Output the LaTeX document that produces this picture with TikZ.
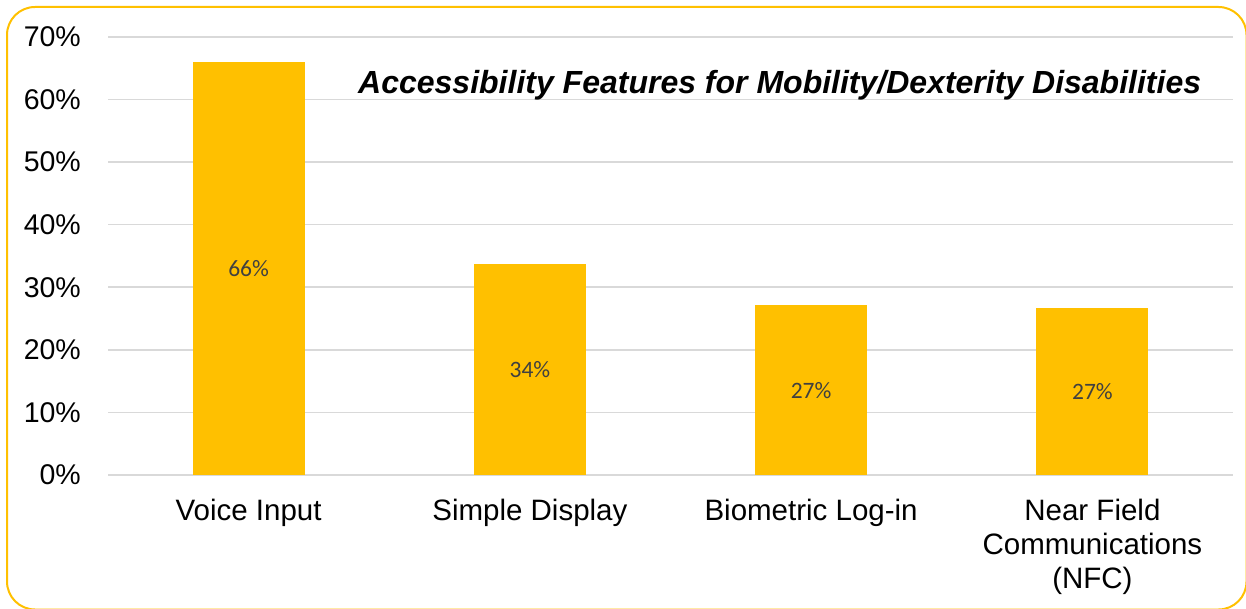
\documentclass[tikz,border=0pt]{standalone}
\usepackage{fontspec}
\setmainfont{Liberation Sans}
\newfontfamily\labelfont{Carlito}
\definecolor{barcol}{HTML}{FFC000}
\definecolor{gridcol}{HTML}{D9D9D9}
\definecolor{valcol}{HTML}{404040}
\tikzset{
  gridline/.style={draw=gridcol, line width=1.5pt},
  bar/.style={fill=barcol, draw=none},
  ticklabel/.style={anchor=east, inner sep=0pt, font=\fontsize{28.5}{33.5}\selectfont},
  catlabel/.style={anchor=north, inner sep=0pt, align=center, font=\fontsize{29.5}{33.8}\selectfont},
  vallabel/.style={inner sep=0pt, text=valcol, font=\labelfont\fontsize{23.5}{27}\selectfont},
  frame/.style={draw=barcol, line width=2pt, rounded corners=28pt},
}
\begin{document}
\begin{tikzpicture}[x=1pt, y=-1pt]
  \useasboundingbox (0,0) rectangle (1246,609);
  % chart frame
  \begin{scope}
    \clip (0,0) rectangle (1246,609);
    \draw[frame] (7,7) rectangle (1246.5,609.5);
  \end{scope}
  % horizontal gridlines (10% = 62.6 units)
  \foreach \k in {0,...,7} {
    \draw[gridline] (108,{475-62.6*\k}) -- (1233,{475-62.6*\k});
  }
  % axis tick labels
  \node[ticklabel] (t0) at (81,475) {0\%};
  \foreach \k in {1,...,7} {
    \node[ticklabel] (t\k) at (81,{475-62.6*\k}) {\k0\%};
  }
  % bars with value labels
  \foreach \i/\c/\v/\t in {1/248.6/66.0/66,2/529.9/33.66/34,3/811.1/27.1/27,4/1092.4/26.6/27} {
    \fill[bar] ({\c-56},475) rectangle ({\c+56},{475-6.26*\v});
    \node[vallabel] (v\i) at (\c,{475-3.13*\v}) {\t\%};
  }
  % category labels
  \node[catlabel] (c1) at (248.6,499) {Voice Input};
  \node[catlabel] (c2) at (529.9,499) {Simple Display};
  \node[catlabel] (c3) at (811.1,499) {Biometric Log-in};
  \node[catlabel] (c4) at (1092.4,499) {Near Field\\Communications\\(NFC)};
  % title
  \node[anchor=base west, inner sep=0pt, font=\fontsize{32}{36}\selectfont\bfseries\itshape] (title) at (358,94)
    {Accessibility Features for Mobility/Dexterity Disabilities};
\end{tikzpicture}
\end{document}
